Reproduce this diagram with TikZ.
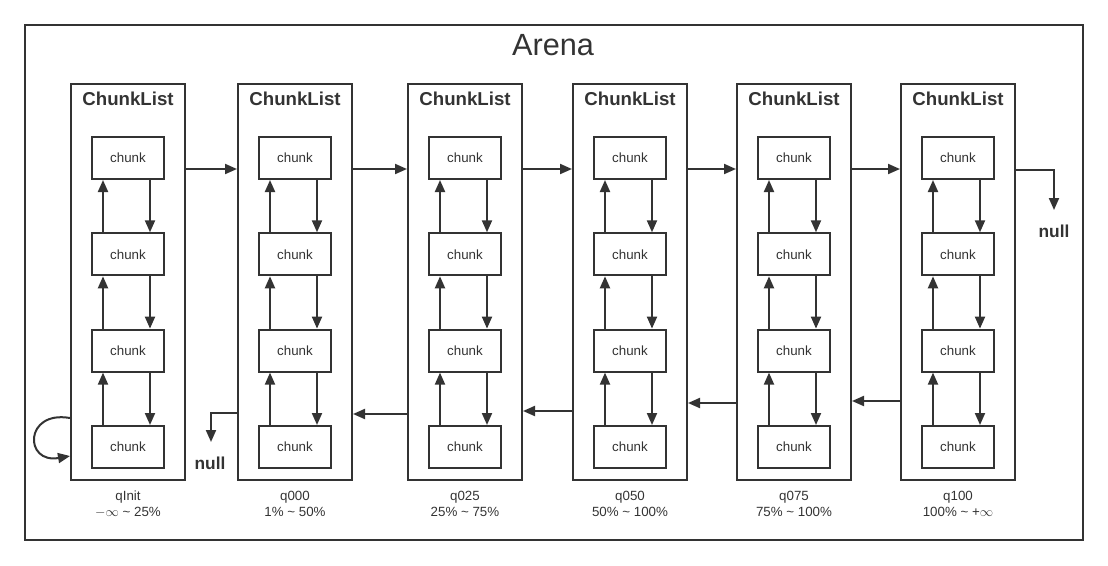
\documentclass[tikz,border=0pt]{standalone}
\usepackage{fontspec}
\setmainfont{Liberation Sans}
\usetikzlibrary{arrows.meta}
\definecolor{ink}{HTML}{333333}

\tikzset{every picture/.style={line width=1.5pt}}
\tikzset{
  listbox/.style={draw=ink, minimum width=85.5pt, minimum height=297pt, inner sep=0pt},
  chunkbox/.style={draw=ink, text=ink, minimum width=54pt, minimum height=31.5pt, inner sep=0pt, font=\fontsize{10}{12}\selectfont},
  listtitle/.style={text=ink, inner sep=0pt, font=\bfseries\fontsize{14}{17}\selectfont},
  nulltext/.style={text=ink, inner sep=0pt, font=\bfseries\fontsize{13}{16}\selectfont},
  rangetext/.style={text=ink, inner sep=0pt, align=center, font=\fontsize{10}{12}\selectfont},
  arr/.style={draw=ink, -{Triangle[length=9pt,width=7.5pt]}},
}

\begin{document}
\begin{tikzpicture}[x=0.75pt,y=0.75pt,yscale=-1,xscale=1]
\useasboundingbox (0,0) rectangle (1108,565);

%Shape: Rectangle [Arena]
\draw [color=ink, line width=1.2pt] (25,25) rectangle (1083,540) ;
% Text Node
\node [text=ink, inner sep=0pt, font=\fontsize{23}{27}\selectfont] (arena) at (553,45) {Arena};

%Shape: ChunkLists with their chunks
\foreach \x/\nm/\rg [count=\i] in {128/qInit/$-\infty$ \textasciitilde{} 25\%, 295/q000/1\% \textasciitilde{} 50\%, 465/q025/25\% \textasciitilde{} 75\%, 630/q050/50\% \textasciitilde{} 100\%, 794/q075/75\% \textasciitilde{} 100\%, 958/q100/100\% \textasciitilde{} +$\infty$} {
  \node [listbox] (L\i) at (\x,282) {};
  \node [listtitle] (t\i) at (\x,99) {ChunkList};
  \node [rangetext] (r\i) at (\x,504) {\nm\\\rg};
  \foreach \y [count=\k] in {158,254.3,350.6,447}
    \node [chunkbox] (c\i-\k) at (\x,\y) {chunk};
  \foreach \k [evaluate=\k as \j using int(\k+1)] in {1,2,3} {
    \draw [arr] ([xshift=9pt]c\i-\j.north west) -- ([xshift=9pt]c\i-\k.south west) ;
    \draw [arr] ([xshift=-11.25pt]c\i-\k.south east) -- ([xshift=-11.25pt]c\i-\j.north east) ;
  }
}

%Straight Lines: next list
\foreach \i [evaluate=\i as \j using int(\i+1)] in {1,...,5}
  \draw [arr] ([yshift=64.5pt]L\i.north east) -- ([yshift=64.5pt]L\j.north west) ;
%Straight Lines: previous list
\foreach \i/\j/\d in {3/2/50.25, 4/3/52.5, 5/4/58.5, 6/5/60}
  \draw [arr] ([yshift=-\d pt]L\i.south west) -- ([yshift=-\d pt]L\j.south east) ;

% null ends
\coordinate (n6) at (1054,210);
\node [nulltext] (null6) at (1054,231) {null};
\draw [arr] ([yshift=65.25pt]L6.north east) -| (n6) ;
\coordinate (n2) at (211,442);
\node [nulltext] (null2) at (210,463) {null};
\draw [arr] ([yshift=-51pt]L2.south west) -| (n2) ;

%Curve Lines: qInit to itself
\draw [arr] ([yshift=-47.25pt]L1.south west) .. controls (24,410) and (24,464) .. ([yshift=-18.75pt]L1.south west) ;

\end{tikzpicture}
\end{document}
